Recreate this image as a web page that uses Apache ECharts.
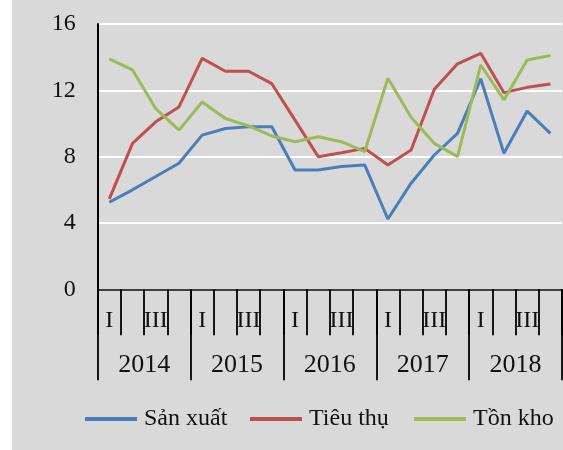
<!DOCTYPE html>
<html>
<head>
<meta charset="utf-8">
<script src="https://cdn.jsdelivr.net/npm/echarts@6/dist/echarts.min.js"></script>
<style>
html,body{margin:0;padding:0;background:#fff;}
#c{width:563px;height:450px;background:linear-gradient(to right,#ffffff 12px,#d9d9d9 12px);}
</style>
</head>
<body>
<div id="c"></div>
<script>
const quarters = ['I','','III','','I','','III','','I','','III','','I','','III','','I','','III',''];
const years = ['2014','2015','2016','2017','2018'];
const sanXuat = [5.25, 6.0, 6.8, 7.6, 9.3, 9.7, 9.8, 9.8, 7.2, 7.2, 7.4, 7.5, 4.24, 6.4, 8.1, 9.4, 12.7, 8.2, 10.75, 9.4];
const tieuThu = [5.45, 8.8, 10.1, 11.0, 13.93, 13.15, 13.15, 12.4, 10.2, 8.0, 8.24, 8.5, 7.5, 8.4, 12.06, 13.6, 14.23, 11.86, 12.18, 12.38];
const tonKho = [13.9, 13.23, 10.9, 9.6, 11.3, 10.3, 9.85, 9.25, 8.9, 9.2, 8.9, 8.3, 12.73, 10.37, 8.8, 8.0, 13.53, 11.42, 13.83, 14.1];
const seriesNames = ['Sản xuất', 'Tiêu thụ', 'Tồn kho'];
const colors = ['#4a7ebb', '#c0504d', '#9bbb59'];

const font = 'Liberation Serif';
const chart = echarts.init(document.getElementById('c'));
const legendLefts = [80, 245, 409];
chart.setOption({
  backgroundColor: 'transparent',
  animation: false,
  grid: {left: 97.7, right: 1, top: 24, bottom: 160.7, containLabel: false},
  legend: seriesNames.map((n, i) => ({
    data: [n], left: legendLefts[i], top: 402, icon: 'rect',
    itemWidth: 52, itemHeight: 4, itemGap: 7,
    textStyle: {fontFamily: font, fontSize: 24, color: '#111', padding: [0,0,0,2]}
  })),
  xAxis: [{
    type: 'category', data: quarters, boundaryGap: true,
    axisLine: {lineStyle: {color: '#000', width: 1.5}},
    axisTick: {show: true, length: 46, interval: 0, lineStyle: {color: '#000', width: 1.8}},
    axisLabel: {interval: 0, margin: 19, fontFamily: font, fontSize: 24, color: '#111'},
    splitLine: {show: false}
  }, {
    type: 'category', data: years, position: 'bottom', boundaryGap: true,
    axisLine: {show: false},
    axisTick: {show: true, length: 91, interval: 0, lineStyle: {color: '#000', width: 1.8}},
    axisLabel: {interval: 0, margin: 63, fontFamily: font, fontSize: 26, color: '#111'},
    splitLine: {show: false}
  }],
  yAxis: {
    type: 'value', min: 0, max: 16, interval: 4,
    axisLine: {show: true, lineStyle: {color: '#000', width: 2}},
    axisTick: {show: false},
    axisLabel: {margin: 22, fontFamily: font, fontSize: 24, color: '#111'},
    splitLine: {show: true, lineStyle: {color: '#ffffff', width: 2}}
  },
  series: [sanXuat, tieuThu, tonKho].map((d, i) => ({
    name: seriesNames[i], type: 'line', data: d, xAxisIndex: 0,
    symbol: 'none', color: colors[i],
    lineStyle: {width: 3, color: colors[i]}
  }))
});
</script>
</body>
</html>
